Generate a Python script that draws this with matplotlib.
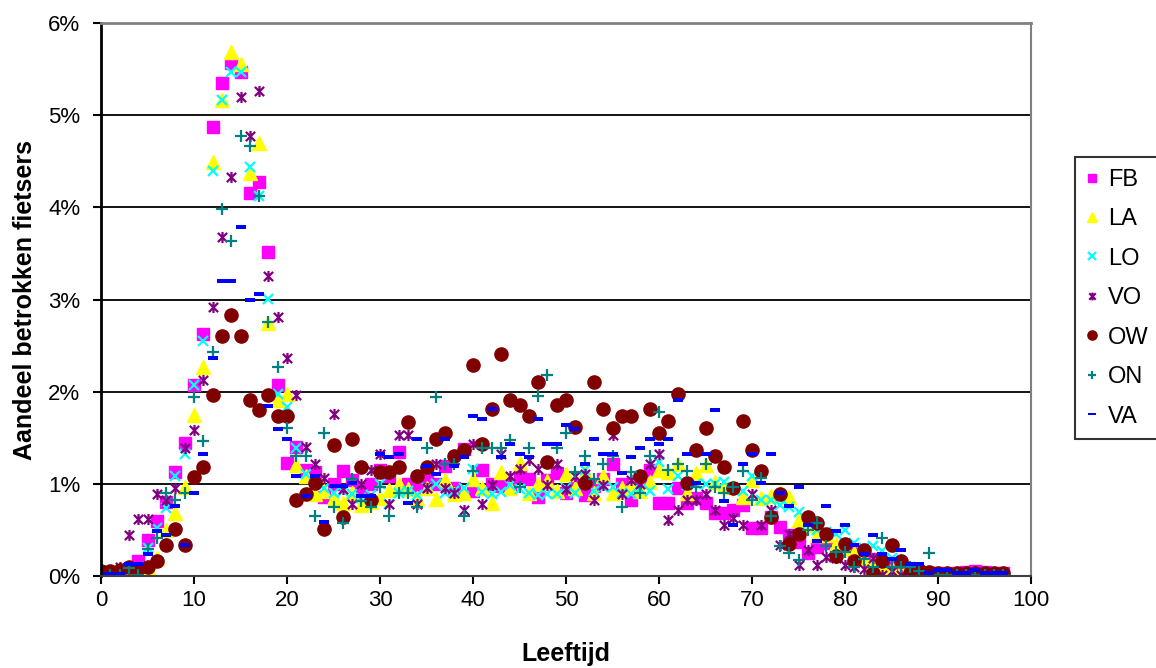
import numpy as np
import matplotlib
matplotlib.use("Agg")
import matplotlib.pyplot as plt
from matplotlib.path import Path

plt.rcParams['font.family'] = ['Liberation Sans', 'DejaVu Sans']

# leeftijden 0..97
ages = list(range(98))

fb = [0.04, 0.02, 0.03, 0.07, 0.16, 0.39, 0.60, 0.80, 1.13, 1.44,
      2.07, 2.63, 4.87, 5.35, 5.57, 5.47, 4.16, 4.27, 3.51, 2.07,
      1.23, 1.40, 1.15, 1.13, 0.86, 1.00, 1.14, 1.04, 0.93, 1.00,
      1.15, 1.09, 1.35, 1.00, 0.95, 1.09, 1.00, 1.19, 0.95, 1.38,
      0.92, 1.15, 1.00, 0.98, 1.00, 1.08, 1.05, 0.86, 1.04, 1.12,
      0.90, 1.00, 0.88, 0.98, 1.05, 1.22, 1.00, 0.82, 1.05, 1.15,
      0.79, 0.79, 0.95, 0.79, 0.85, 0.79, 0.68, 0.68, 0.72, 0.77,
      0.52, 0.52, 0.64, 0.53, 0.45, 0.37, 0.25, 0.32, 0.36, 0.28,
      0.30, 0.25, 0.22, 0.18, 0.12, 0.10, 0.08, 0.05, 0.04, 0.03,
      0.03, 0.02, 0.03, 0.04, 0.05, 0.04, 0.03, 0.03]

la = [0.02, 0.01, 0.02, 0.03, 0.05, 0.10, 0.20, 0.50, 0.68, 0.97,
      1.75, 2.27, 4.49, 5.16, 5.68, 5.55, 4.37, 4.70, 2.74, 1.91,
      1.98, 1.20, 1.09, 0.89, 0.92, 0.85, 0.79, 0.90, 0.77, 0.80,
      0.85, 0.93, 1.00, 0.94, 0.85, 0.95, 0.84, 1.04, 0.89, 0.90,
      1.05, 0.95, 0.79, 1.13, 0.95, 1.23, 0.90, 1.00, 1.03, 0.92,
      1.11, 0.95, 1.13, 0.90, 1.08, 0.90, 0.95, 1.00, 0.92, 1.02,
      1.15, 1.13, 1.22, 0.90, 1.12, 1.20, 1.02, 0.98, 0.97, 0.86,
      1.04, 0.85, 0.87, 0.90, 0.86, 0.61, 0.55, 0.45, 0.45, 0.35,
      0.30, 0.25, 0.20, 0.15, 0.10, 0.08, 0.05, 0.05, 0.03, 0.03,
      0.02, 0.02, 0.02, 0.02, 0.02, 0.02, 0.02, 0.02]

lo = [0.02, 0.02, 0.02, 0.05, 0.10, 0.30, 0.52, 0.74, 1.08, 1.32,
      2.07, 2.55, 4.39, 5.16, 5.47, 5.47, 4.44, 4.12, 3.01, 1.98,
      1.83, 1.39, 1.11, 1.00, 0.95, 0.90, 0.92, 0.89, 0.85, 0.88,
      1.00, 0.78, 0.90, 0.92, 0.88, 0.95, 1.00, 0.90, 0.92, 0.95,
      1.16, 0.91, 0.89, 0.91, 0.99, 0.94, 0.90, 0.88, 0.89, 0.89,
      0.95, 0.90, 1.15, 0.92, 0.97, 0.97, 0.90, 0.89, 0.94, 0.92,
      1.24, 0.94, 1.08, 0.99, 1.00, 1.00, 1.00, 1.02, 0.97, 0.92,
      1.08, 0.82, 0.82, 0.77, 0.75, 0.69, 0.57, 0.50, 0.48, 0.46,
      0.50, 0.36, 0.30, 0.33, 0.27, 0.20, 0.15, 0.10, 0.05, 0.03,
      0.02, 0.02, 0.02, 0.02, 0.02, 0.02, 0.02, 0.02]

vo = [0.00, 0.05, 0.10, 0.44, 0.62, 0.62, 0.89, 0.82, 0.95, 1.39,
      1.58, 2.13, 2.92, 3.68, 4.33, 5.20, 4.77, 5.26, 3.25, 2.81,
      2.36, 1.96, 1.40, 1.21, 1.06, 1.76, 0.94, 0.78, 1.00, 1.15,
      1.32, 0.78, 1.53, 1.53, 0.78, 0.95, 1.22, 0.95, 0.90, 0.72,
      1.43, 0.78, 0.99, 1.32, 1.08, 1.16, 1.26, 1.16, 0.99, 1.21,
      0.94, 1.08, 1.11, 0.82, 0.99, 1.53, 0.89, 1.04, 1.00, 1.22,
      1.32, 0.61, 0.72, 0.82, 0.82, 0.89, 0.72, 0.55, 0.63, 0.55,
      0.89, 0.55, 0.72, 0.34, 0.46, 0.12, 0.28, 0.12, 0.21, 0.20,
      0.12, 0.10, 0.08, 0.19, 0.01, 0.05, 0.01, 0.05, 0.02, 0.01,
      0.01, 0.01, 0.01, 0.01, 0.01, 0.01, 0.01, 0.01]

ow = [0.05, 0.05, 0.07, 0.10, 0.08, 0.10, 0.16, 0.34, 0.51, 0.34,
      1.07, 1.18, 1.96, 2.60, 2.83, 2.60, 1.91, 1.80, 1.96, 1.74,
      1.74, 0.82, 0.89, 1.01, 0.51, 1.42, 0.64, 1.49, 1.18, 0.82,
      1.13, 1.13, 1.18, 1.67, 1.08, 1.18, 1.49, 1.55, 1.30, 1.37,
      2.29, 1.43, 1.81, 2.41, 1.91, 1.86, 1.74, 2.10, 1.24, 1.86,
      1.91, 1.62, 1.01, 2.10, 1.81, 1.61, 1.74, 1.74, 1.08, 1.81,
      1.55, 1.68, 1.97, 1.01, 1.37, 1.61, 1.30, 1.18, 0.95, 1.68,
      1.37, 1.14, 0.64, 0.89, 0.35, 0.46, 0.64, 0.57, 0.46, 0.22,
      0.35, 0.16, 0.28, 0.03, 0.16, 0.34, 0.16, 0.03, 0.06, 0.04,
      0.03, 0.03, 0.03, 0.03, 0.03, 0.03, 0.03, 0.03]

on = [0.01, 0.01, 0.01, 0.09, 0.01, 0.29, 0.41, 0.90, 0.82, 0.90,
      1.94, 1.47, 2.43, 3.98, 3.64, 4.77, 4.67, 4.12, 2.76, 2.27,
      1.61, 1.30, 1.30, 0.65, 1.55, 0.75, 0.57, 1.05, 0.81, 0.75,
      0.97, 0.65, 0.90, 0.90, 0.75, 1.39, 1.94, 1.21, 1.21, 0.65,
      1.14, 1.39, 1.39, 1.39, 1.48, 0.97, 1.39, 1.95, 2.18, 1.39,
      1.55, 1.13, 1.30, 1.05, 1.21, 1.30, 0.75, 1.13, 0.90, 1.30,
      1.78, 1.15, 1.22, 1.14, 0.97, 1.22, 0.97, 0.90, 0.97, 1.14,
      0.82, 1.06, 0.65, 0.33, 0.25, 0.17, 0.50, 0.58, 0.33, 0.26,
      0.26, 0.10, 0.18, 0.10, 0.41, 0.10, 0.10, 0.10, 0.05, 0.25,
      0.01, 0.01, 0.01, 0.01, 0.01, 0.01, 0.01, 0.01]

va = [0.02, 0.02, 0.02, 0.13, 0.13, 0.24, 0.49, 0.45, 0.76, 0.34,
      0.90, 1.32, 2.36, 3.20, 3.20, 3.79, 3.00, 3.06, 1.84, 1.59,
      1.49, 1.08, 0.87, 1.08, 0.59, 0.98, 0.98, 1.01, 0.87, 0.87,
      1.32, 1.29, 1.32, 0.79, 1.49, 1.19, 1.11, 1.49, 1.19, 1.29,
      1.74, 1.70, 1.81, 1.29, 1.43, 1.32, 1.29, 1.70, 1.43, 1.43,
      1.64, 1.59, 1.22, 1.49, 1.32, 1.32, 1.12, 1.29, 1.39, 1.49,
      1.43, 1.49, 1.91, 1.32, 1.01, 1.32, 1.80, 0.81, 0.55, 1.21,
      1.32, 1.01, 1.32, 0.90, 0.76, 0.97, 0.55, 0.38, 0.76, 0.49,
      0.55, 0.34, 0.24, 0.44, 0.24, 0.18, 0.28, 0.13, 0.13, 0.03,
      0.06, 0.06, 0.03, 0.03, 0.06, 0.03, 0.03, 0.03]

labels = ['FB', 'LA', 'LO', 'VO', 'OW', 'ON', 'VA']
x_ticks = [0, 10, 20, 30, 40, 50, 60, 70, 80, 90, 100]
y_ticks = [0, 1, 2, 3, 4, 5, 6]

# Excel-achtige markers
star = Path([(-1, -1), (1, 1), (-1, 1), (1, -1), (0, -1.2), (0, 1.2)],
            [Path.MOVETO, Path.LINETO, Path.MOVETO, Path.LINETO, Path.MOVETO, Path.LINETO])
dash = Path([(-1, -0.38), (1, -0.38), (1, 0.38), (-1, 0.38), (-1, -0.38)],
            [Path.MOVETO, Path.LINETO, Path.LINETO, Path.LINETO, Path.CLOSEPOLY])

styles = [
    dict(marker='s', color='#FF00FF', ms=8.5, mec='#FF00FF'),
    dict(marker='^', color='#FFFF00', ms=10, mec='#FFFF00'),
    dict(marker='x', color='#00FFFF', ms=7.5, mew=1.6),
    dict(marker=star, color='#800080', ms=8, mew=1.6),
    dict(marker='o', color='#800000', ms=9.5, mec='#800000'),
    dict(marker='+', color='#008080', ms=9, mew=1.6),
    dict(marker=dash, color='#0000FF', ms=7.5, mec='#0000FF', mew=0),
]

series = [fb, la, lo, vo, ow, on, va]

fig = plt.figure(figsize=(11.56, 6.68), dpi=100)
ax = fig.add_axes([101 / 1156, 1 - 576 / 668, 930 / 1156, 553 / 668])

for vals, lab, st in zip(series, labels, styles):
    ax.plot(ages, vals, linestyle='none', label=lab, **st)

ax.set_xlim(0, 100)
ax.set_ylim(0, 6)
ax.set_xticks(x_ticks)
ax.set_yticks(y_ticks)
ax.set_yticklabels([f'{v}%' for v in y_ticks])
ax.tick_params(axis='both', direction='out', length=6, width=1.5, labelsize=16, colors='black')
ax.tick_params(axis='x', pad=4)
ax.tick_params(axis='y', pad=9)

for y in y_ticks[1:-1]:
    ax.axhline(y, color='black', linewidth=1.3, zorder=0)

ax.spines['left'].set_linewidth(2)
ax.spines['left'].set_color('black')
ax.spines['bottom'].set_linewidth(1.5)
ax.spines['bottom'].set_color('#404040')
ax.spines['top'].set_linewidth(2)
ax.spines['top'].set_color('#808080')
ax.spines['right'].set_linewidth(1.5)
ax.spines['right'].set_color('#808080')

ax.set_xlabel('Leeftijd', fontsize=18, fontweight='bold', labelpad=22.5)
ax.set_ylabel('Aandeel betrokken fietsers', fontsize=18, fontweight='bold', labelpad=8)

leg = fig.legend(loc='upper left', bbox_to_anchor=(1075 / 1156, 1 - 157 / 668),
                 fontsize=17, frameon=True, fancybox=False, edgecolor='black',
                 handlelength=0.45, handletextpad=0.45, labelspacing=0.74,
                 borderpad=0.5, borderaxespad=0, markerscale=0.7)
leg.get_frame().set_linewidth(1.5)

fig.savefig('out.png', dpi=100)
